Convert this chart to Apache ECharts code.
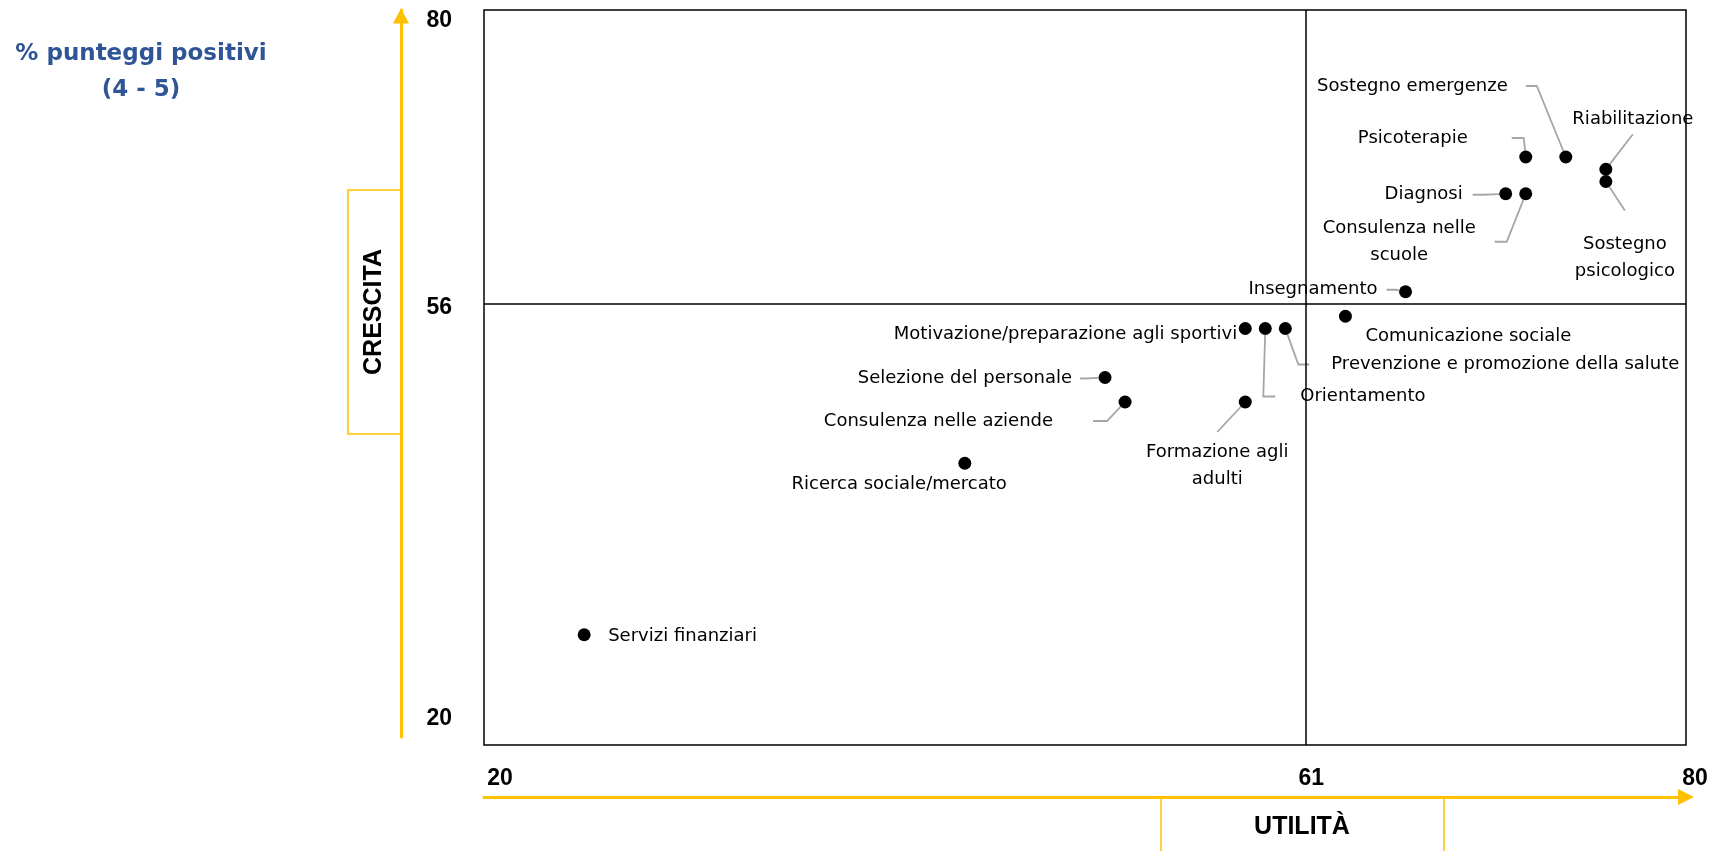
<!DOCTYPE html>
<html>
<head>
<meta charset="utf-8">
<style>
html, body { margin: 0; padding: 0; background: #fff; }
#chart { width: 1710px; height: 851px; }
</style>
<script src="https://cdn.jsdelivr.net/npm/echarts@6/dist/echarts.min.js"></script>
</head>
<body>
<div id="chart"></div>
<script>
var names = [
    'Servizi finanziari',
    'Ricerca sociale/mercato',
    'Selezione del personale',
    'Consulenza nelle aziende',
    'Motivazione/preparazione agli sportivi',
    'Orientamento',
    'Prevenzione e promozione della salute',
    'Formazione agli adulti',
    'Comunicazione sociale',
    'Insegnamento',
    'Diagnosi',
    'Consulenza nelle scuole',
    'Psicoterapie',
    'Sostegno emergenze',
    'Riabilitazione',
    'Sostegno psicologico'
];
var utilita = [25, 44, 51, 52, 58, 59, 60, 58, 63, 66, 71, 72, 72, 74, 76, 76];
var crescita = [29, 43, 50, 48, 54, 54, 54, 48, 55, 57, 65, 65, 68, 68, 67, 66];

var xTicks = [20, 61, 80];
var yTicks = [80, 56, 20];
var xDivider = 61;
var yDivider = 56;

// testo a capo come nel grafico originale
var wrapped = {
    'Formazione agli adulti': 'Formazione agli\nadulti',
    'Consulenza nelle scuole': 'Consulenza nelle\nscuole',
    'Sostegno psicologico': 'Sostegno\npsicologico'
};

// posizione etichette: align, dx, dy, padding, lunghezza linea guida (null = nessuna)
var placement = [
    ['left', 24, 2, 0, null],
    ['right', 42, 21, 0, null],
    ['right', -25, 1, [0, 8, 0, 0], 5],
    ['right', -32, 19, [0, 40, 0, 0], 14],
    ['right', -8, 6, 0, null],
    ['left', 10, 68, [0, 0, 0, 25], 12],
    ['left', 24, 36, [0, 0, 0, 22], 11],
    ['center', -28, 64, [7, 0, 7, 0], 0],
    ['left', 20, 20, 0, null],
    ['right', -19, -2, [0, 9, 0, 0], 9],
    ['right', -33, 1, [0, 10, 0, 0], 10],
    ['center', -117, 48, [0, 19, 0, 0], 12],
    ['right', -14, -19, [0, 44, 0, 0], 12],
    ['right', -40, -71, [0, 18, 0, 0], 11],
    ['center', 27, -50, [0, 0, 3, 0], 0],
    ['center', 19, 76, [20, 0, 20, 0], 0]
];

var tickFont = {fontSize: 23, fontWeight: 'bold', fontFamily: 'Liberation Sans', color: '#000'};
var yellow = '#FFC000';

var points = names.map(function (n, i) {
    var p = placement[i];
    return {
        name: n,
        value: [utilita[i], crescita[i]],
        label: {
            align: p[0],
            offset: [p[1], p[2]],
            padding: p[3]
        },
        labelLine: {
            show: p[4] !== null,
            length2: p[4] || 0
        }
    };
});

var xRich = {}, yRich = {};
xRich.x20 = Object.assign({padding: [0, 0, 0, 32]}, tickFont);
xRich.x61 = Object.assign({padding: [0, 0, 0, 12]}, tickFont);
xRich.x80 = Object.assign({padding: [0, 0, 0, 18]}, tickFont);
yRich.y80 = Object.assign({padding: [22, 0, 0, 0]}, tickFont);
yRich.y56 = Object.assign({padding: [8, 0, 0, 0]}, tickFont);
yRich.y20 = Object.assign({padding: [0, 0, 52, 0]}, tickFont);

var hiddenAxis = {
    axisLine: {show: false},
    axisTick: {show: false},
    axisLabel: {show: false},
    splitLine: {show: false}
};

var myChart = echarts.init(document.getElementById('chart'), null, {renderer: 'canvas'});

var option = {
    animation: false,
    backgroundColor: '#fff',
    textStyle: {fontFamily: 'DejaVu Sans'},
    grid: [
        {
            left: 484,
            top: 10,
            width: 1202,
            height: 735,
            show: true,
            borderColor: '#000',
            borderWidth: 1.5,
            containLabel: false,
            outerBoundsMode: 'none'
        },
        {
            // griglia solo per la freccia gialla verticale (più corta)
            left: 484,
            top: 10,
            width: 1202,
            height: 727,
            show: false,
            containLabel: false,
            outerBoundsMode: 'none'
        }
    ],
    xAxis: [
        {
            type: 'value',
            min: 20,
            max: 80,
            axisLine: {show: false},
            axisTick: {show: false},
            splitLine: {show: false},
            axisLabel: {
                customValues: xTicks,
                margin: 22,
                formatter: function (v) { return '{x' + v + '|' + v + '}'; },
                rich: xRich
            }
        },
        {
            type: 'value',
            min: 20,
            max: 80,
            position: 'bottom',
            offset: 52,
            axisLine: {
                show: true,
                onZero: false,
                lineStyle: {color: yellow, width: 3},
                symbol: ['none', 'triangle'],
                symbolSize: [16, 16]
            },
            axisTick: {show: false},
            axisLabel: {show: false},
            splitLine: {show: false}
        },
        Object.assign({type: 'value', gridIndex: 1, min: 20, max: 80}, hiddenAxis)
    ],
    yAxis: [
        {
            type: 'value',
            min: 20,
            max: 80,
            axisLine: {show: false},
            axisTick: {show: false},
            splitLine: {show: false},
            axisLabel: {
                customValues: yTicks,
                margin: 32,
                formatter: function (v) { return '{y' + v + '|' + v + '}'; },
                rich: yRich
            }
        },
        {
            type: 'value',
            gridIndex: 1,
            min: 20,
            max: 80,
            position: 'left',
            offset: 83,
            axisLine: {
                show: true,
                onZero: false,
                lineStyle: {color: yellow, width: 3},
                symbol: ['none', 'triangle'],
                symbolSize: [16, 15],
                symbolOffset: [0, -6]
            },
            axisTick: {show: false},
            axisLabel: {show: false},
            splitLine: {show: false}
        }
    ],
    graphic: [
        {
            type: 'text',
            x: 141,
            y: 36,
            style: {
                text: '% punteggi positivi\n(4 - 5)',
                align: 'center', textAlign: 'center',
                verticalAlign: 'top', textVerticalAlign: 'top',
                lineHeight: 36,
                font: 'bold 23px "DejaVu Sans"',
                fill: '#2F5597'
            }
        },
        {
            type: 'rect',
            shape: {x: 348, y: 190, width: 53, height: 244},
            style: {fill: 'none', stroke: yellow, lineWidth: 1.5}
        },
        {
            type: 'text',
            x: 374,
            y: 312,
            rotation: Math.PI / 2,
            style: {
                text: 'CRESCITA',
                align: 'center', textAlign: 'center',
                verticalAlign: 'middle', textVerticalAlign: 'middle',
                font: 'bold 25px "Liberation Sans"',
                fill: '#000'
            }
        },
        {
            type: 'rect',
            shape: {x: 1161, y: 797, width: 283, height: 80},
            style: {fill: 'none', stroke: yellow, lineWidth: 1.5}
        },
        {
            type: 'text',
            x: 1302,
            y: 827,
            style: {
                text: 'UTILITÀ',
                align: 'center', textAlign: 'center',
                verticalAlign: 'middle', textVerticalAlign: 'middle',
                font: 'bold 25px "Liberation Sans"',
                fill: '#000'
            }
        }
    ],
    series: [
        {
            type: 'scatter',
            xAxisIndex: 0,
            yAxisIndex: 0,
            symbol: 'circle',
            symbolSize: 13,
            itemStyle: {color: '#000', opacity: 1},
            label: {
                show: true,
                position: ['50%', '50%'],
                verticalAlign: 'middle',
                fontSize: 18,
                lineHeight: 27,
                fontFamily: 'DejaVu Sans',
                color: '#000',
                opacity: 1,
                formatter: function (p) { return wrapped[p.name] || p.name; }
            },
            labelLine: {
                show: false,
                lineStyle: {color: '#A6A6A6', width: 1.8, opacity: 1}
            },
            emphasis: {disabled: true},
            markLine: {
                silent: true,
                symbol: ['none', 'none'],
                label: {show: false},
                lineStyle: {color: '#000', width: 1.5, type: 'solid', opacity: 1},
                data: [{xAxis: xDivider}, {yAxis: yDivider}]
            },
            data: points
        }
    ]
};

myChart.setOption(option);
</script>
</body>
</html>
